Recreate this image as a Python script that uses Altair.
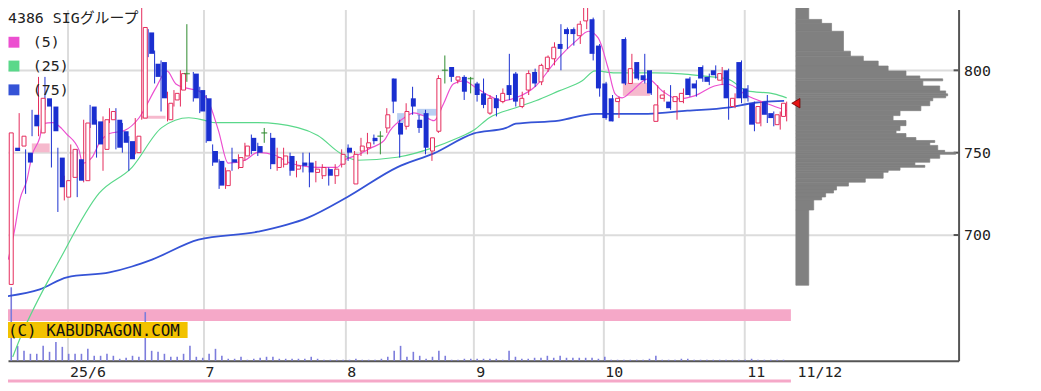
import altair as alt
import numpy as np
import pandas as pd

# ---------------- data ----------------
opens = [670,753,754,750,773,762,783,778,747,723,
         735,746,733,778,769,752,770,770,763,757,
         750,771,823,804,805,770,782,788,798,798,
         788,783,751,745,730,746,741,748,759,754,
         762,759,741,743,748,740,744,744,738,736,
         740,736,743,753,731,751,753,759,760,765,
         795,768,766,783,770,774,751,763,800,802,
         794,796,795,792,786,774,783,781,791,798,
         778,788,799,793,801,807,816,825,825,821,
         830,831,815,792,783,781,819,792,805,797,
         800,769,783,781,781,781,795,792,802,796,
         800,794,800,778,805,789,780,768,781,774,
         767,772]
highs = [771,754,774,752,776,796,796,780,753,736,
         755,752,770,779,770,772,777,777,768,760,
         771,840,825,812,806,787,788,800,828,799,
         790,785,755,746,741,753,749,756,761,756,
         765,762,753,753,750,745,750,750,745,743,
         741,743,752,755,751,759,762,761,763,777,
         795,770,780,790,773,776,759,797,809,802,
         796,797,796,793,795,785,785,789,810,799,
         787,800,801,804,809,817,828,826,826,830,
         841,832,816,793,785,784,820,810,805,810,
         800,791,788,791,784,789,796,794,803,798,
         803,802,801,786,806,791,781,781,785,775,
         775,781]
lows = [668,727,752,725,760,760,776,741,714,721,
        733,723,732,765,747,739,768,752,750,739,
        749,770,808,792,775,769,778,778,793,781,
        774,756,742,728,728,739,740,745,749,748,
        756,740,739,741,736,735,738,729,732,734,
        730,731,741,745,731,748,749,755,749,762,
        774,747,764,773,762,749,745,762,792,793,
        792,782,786,781,777,773,772,780,782,778,
        777,785,790,791,799,803,800,813,815,816,
        825,806,784,770,769,771,791,792,794,792,
        785,769,781,776,770,780,784,784,793,791,
        795,791,770,777,780,781,763,766,768,766,
        764,769]
closes = [762,751,760,744,766,783,778,763,729,733,
          752,733,768,767,755,770,775,753,756,746,
          760,826,810,796,783,780,786,798,798,783,
          775,757,744,730,739,744,747,754,751,750,
          762,743,747,748,739,742,742,738,740,741,
          736,740,749,750,749,754,756,757,760,773,
          781,761,775,778,765,753,759,795,800,796,
          796,787,795,785,779,783,777,786,785,781,
          783,798,792,803,808,814,813,822,822,828,
          840,810,789,771,769,783,792,801,795,794,
          786,779,785,777,784,786,785,789,795,793,
          797,798,783,783,783,783,767,778,773,771,
          773,780]
volume = [740,150,100,70,70,150,90,190,140,70,
          70,70,120,50,50,70,50,20,30,50,
          40,490,100,90,70,40,40,70,150,40,
          30,70,120,50,20,20,40,10,20,30,
          40,40,20,20,20,20,20,40,20,10,
          10,10,10,10,20,10,10,10,20,40,
          100,150,40,90,50,20,40,100,50,10,
          10,20,20,20,20,20,20,10,100,40,
          20,20,30,30,50,30,50,30,30,30,
          30,30,20,40,10,10,10,10,10,10,
          20,50,10,10,10,20,20,10,10,10,
          10,10,10,10,10,10,20,10,10,10,
          10,10]

ma5_idx = [0.3,1.3,2.1,3.2,4.0,5.2,5.7,7.2,8.6,9.3,11.3,11.8,13.3,14.4,16.0,18.3,20.6,23.2,
           24.9,26.3,27.8,29.8,31.3,32.9,34.4,37.0,39.0,41.7,44.1,48.3,51.3,52.4,54.4,56.4,
           58.6,59.5,61.7,63.2,64.7,66.3,67.8,69.3,70.9,72.9,74.9,77.0,79.0,82.1,85.2,88.3,
           90.3,91.8,93.3,94.4,95.5,97.0,99.5,101.7,104.1,106.7,109.8,111.8,114.9,118.0,121.0]
ma5_val = [685.0,703.2,721.3,733.3,748.4,759.2,767.6,768.2,764.6,761.6,751.4,743.6,747.2,755.6,
           761.6,763.4,771.2,789.3,799.6,791.7,789.3,787.5,781.5,763.4,743.6,745.4,750.2,748.4,
           743.6,741.1,741.1,745.4,748.4,752.6,757.4,763.4,771.2,774.2,772.4,769.4,779.7,791.7,
           793.6,789.3,784.5,781.5,783.3,790.5,805.6,817.7,823.7,819.5,801.4,785.7,783.3,787.5,
           794.8,787.5,782.7,784.5,790.5,791.7,784.5,779.7,775.5]
ma25_idx = [1.0,2.1,8.3,14.4,19.5,24.1,28.3,30.9,32.4,39.0,45.2,48.3,51.8,54.4,60.6,66.3,69.8,
            72.4,74.9,79.0,82.1,85.7,89.3,91.3,94.4,100.6,104.7,107.8,111.8,114.9,119.0,121.0]
ma25_val = [626.0,636.9,685.1,725.4,741.1,765.2,771.2,769.5,768.2,768.2,765.2,760.4,749.6,745.4,
            747.2,753.2,758.6,763.4,771.2,777.3,781.5,787.5,793.6,799.6,798.4,798.4,797.8,796.6,
            794.8,787.5,785.7,783.3]
ma75_idx = [0.1,5.2,9.4,16.0,19.5,22.6,29.8,39.0,46.7,52.9,60.6,66.3,72.4,77.5,79.0,85.7,91.3,
            99.5,105.6,111.8,116.0,120.6]
ma75_val = [662.8,667.0,674.3,677.3,680.9,685.1,697.2,702.0,710.4,723.1,741.1,749.6,761.6,765.0,
            767.6,769.5,773.6,773.6,775.5,777.3,780.3,781.5]

profile_edges = [842,830.9,828.5,823.7,811.6,808.6,805.6,802.6,799.6,796.6,794.8,793.6,790.5,787.5,
                 785.7,784.5,783.3,781.5,778.5,775.5,772.5,769.5,766.4,763.4,761.6,759.2,757.4,
                 756.2,754.4,751.4,750.2,749.0,746.6,744.2,742.3,741.1,739.3,738.1,734.5,732.1,
                 729.7,727.3,725.5,723.1,721.3,715.2,669.5]
profile_vol = [13,26,36,48,55,68,83,93,111,125,148,128,145,151,153,151,138,135,126,105,98,111,
               105,101,111,121,140,135,143,150,161,145,135,120,130,105,93,88,70,53,41,38,30,26,
               18,13]

gap_start = [3.96, 21.0, 60.6, 63.7, 95.6]
gap_end = [6.73, 24.7, 61.7, 66.7, 99.8]
gap_low = [750.2, 770.6, 768.0, 772.5, 784.5]
gap_high = [755.6, 772.4, 774.0, 776.6, 792.4]
gap_kind = ["up", "up", "down", "down", "up"]

month_start = [10, 31, 53, 73, 93, 115]
month_labels = ["25/6", "7", "8", "9", "10", "11"]
last_label = "11/12"
price_ticks = [700, 750, 800]
title_text = "4386 SIGグループ"
ma_labels = ["(5)", "(25)", "(75)"]
credit_text = "(C) KABUDRAGON.COM"

# ---------------- layout / style ----------------
W, H = 958, 354
STEP = 6.5
X0 = -1.75
x_dom = [(0 - X0) / STEP, (W - X0) / STEP]
PXY = 1.66
Y800 = 61.3
y_dom = [800 - (H - Y800) / PXY, 800 + Y800 / PXY]
vol_dom = [0, H * 10]
PROF_LEFT = 794
prof_dom = [-PROF_LEFT, W - PROF_LEFT]

RED = "#e52b5c"
BLUE = "#1a2fd0"
DOJI = "#2d8a2d"
MA_COLORS = ["#ec4fd0", "#5ad88a", "#3553d6"]
VOL_COLOR = "#7c7cdc"
PROF_COLOR = "#808080"
GRID = "#dcdcdc"
AXIS_C = "#555555"
TXT = "#222222"
MONO = "DejaVu Sans Mono"

n = len(closes)
o = np.array(opens); c = np.array(closes)
df = pd.DataFrame({"i": np.arange(n), "open": opens, "high": highs, "low": lows,
                   "close": closes, "vol": volume})
df["dir"] = np.where(c > o, "up", np.where(c < o, "down", "doji"))

xs = alt.Scale(domain=x_dom, nice=False, zero=False)
ys = alt.Scale(domain=y_dom, nice=False, zero=False)
vs = alt.Scale(domain=vol_dom, nice=False, zero=True)
ps = alt.Scale(domain=prof_dom, nice=False, zero=False)

tick_vals = [m - 0.5 for m in month_start] + [n + 0.3]
tick_labs = month_labels + [last_label]
label_expr = " : ".join(f"datum.value == {v} ? '{l}'" for v, l in zip(tick_vals, tick_labs)) + " : ''"

x_axis = alt.Axis(values=tick_vals, labelExpr=label_expr, orient="bottom", grid=True,
                  gridColor=GRID, gridWidth=2,
                  gridOpacity={"condition": {"test": f"datum.value > {n - 1}", "value": 0}, "value": 1},
                  ticks=False, domain=True, domainColor=AXIS_C, domainWidth=2,
                  labelAlign="left", labelOffset=2, labelPadding=4, labelBaseline="top",
                  labelFont=MONO, labelFontSize=15, labelColor=TXT, labelOverlap=False,
                  labelFlush=False, title=None)
y_axis = alt.Axis(orient="right", values=price_ticks, grid=True, gridColor=GRID, gridWidth=2,
                  ticks=False, domain=True, domainColor=AXIS_C, domainWidth=2, labelPadding=5,
                  labelFont=MONO, labelFontSize=15, labelColor=TXT, title=None, labelFlush=False)

one = pd.DataFrame({"k": [0]})

# decorations: pink band, bottom pink line
band = alt.Chart(one).mark_rect(color="#f5a8c8").encode(
    x=alt.value(0), x2=alt.value(789), y=alt.value(302), y2=alt.value(314))
bottom_line = alt.Chart(one).mark_rect(color="#f5a8c8").encode(
    x=alt.value(0), x2=alt.value(789), y=alt.value(373), y2=alt.value(376))

# gap boxes
gdf = pd.DataFrame({"s": gap_start, "e": gap_end, "lo": gap_low, "hi": gap_high, "kind": gap_kind})
gaps = alt.Chart(gdf).mark_rect().encode(
    x=alt.X("s:Q", scale=xs, axis=None), x2="e:Q",
    y=alt.Y("lo:Q", scale=ys, axis=None), y2="hi:Q",
    color=alt.Color("kind:N", scale=alt.Scale(domain=["up", "down"], range=["#f6b9cd", "#b9cff2"]), legend=None))

# volume
vol = alt.Chart(df).mark_bar(size=1.6, color=VOL_COLOR).encode(
    x=alt.X("i:Q", scale=xs, axis=None),
    y=alt.Y("vol:Q", scale=vs, axis=None))

# moving averages
def ma_layer(idx, val, color, width):
    d = pd.DataFrame({"i": idx, "p": val})
    return alt.Chart(d).mark_line(color=color, strokeWidth=width, interpolate="monotone").encode(
        x=alt.X("i:Q", scale=xs, axis=None), y=alt.Y("p:Q", scale=ys, axis=None))

ma75 = ma_layer(ma75_idx, ma75_val, MA_COLORS[2], 1.8)
ma25 = ma_layer(ma25_idx, ma25_val, MA_COLORS[1], 1.2)
ma5 = ma_layer(ma5_idx, ma5_val, MA_COLORS[0], 1.2)

# candles
wicks = alt.Chart(df).mark_rule(strokeWidth=1).encode(
    x=alt.X("i:Q", scale=xs, axis=x_axis),
    y=alt.Y("low:Q", scale=ys, axis=y_axis), y2="high:Q",
    color=alt.Color("dir:N", scale=alt.Scale(domain=["up", "down", "doji"], range=[RED, BLUE, DOJI]), legend=None))
up_b = alt.Chart(df).transform_filter("datum.dir == 'up'").mark_bar(
    size=4, fill="white", stroke=RED, strokeWidth=1).encode(
    x=alt.X("i:Q", scale=xs, axis=None), y=alt.Y("open:Q", scale=ys, axis=None), y2="close:Q")
dn_b = alt.Chart(df).transform_filter("datum.dir == 'down'").mark_bar(size=5, color=BLUE).encode(
    x=alt.X("i:Q", scale=xs, axis=None), y=alt.Y("open:Q", scale=ys, axis=None), y2="close:Q")
doji = alt.Chart(df).transform_filter("datum.dir == 'doji'").mark_tick(
    orient="horizontal", size=6, thickness=1.5, color=DOJI).encode(
    x=alt.X("i:Q", scale=xs, axis=None), y=alt.Y("close:Q", scale=ys, axis=None))

# inward y ticks
tdf = pd.DataFrame({"p": price_ticks})
yticks = alt.Chart(tdf).mark_rule(color=AXIS_C, strokeWidth=2).encode(
    x=alt.value(W - 5), x2=alt.value(W), y=alt.Y("p:Q", scale=ys, axis=None))

# volume profile
pdf = pd.DataFrame({"hi": profile_edges[:-1], "lo": profile_edges[1:], "v": profile_vol})
prof = alt.Chart(pdf).transform_calculate(zero="0").mark_rect(
    color=PROF_COLOR, stroke=PROF_COLOR, strokeWidth=0.7).encode(
    x=alt.X("zero:Q", scale=ps, axis=None), x2="v:Q",
    y=alt.Y("lo:Q", scale=ys, axis=None), y2="hi:Q")
tri = alt.Chart(pd.DataFrame({"v": [0], "p": [closes[-1]]})).mark_point(
    shape="triangle-left", filled=True, size=90, fill="#e41515", stroke="#700000",
    strokeWidth=0.8, opacity=1).encode(
    x=alt.X("v:Q", scale=ps, axis=None), y=alt.Y("p:Q", scale=ys, axis=None))

# credit label
gold = alt.Chart(one).mark_rect(color="#f2c200").encode(
    x=alt.value(0), x2=alt.value(181), y=alt.value(315), y2=alt.value(331))
credit = alt.Chart(one).mark_text(text=credit_text, align="left", baseline="middle",
                                  font=MONO, fontSize=16, color="#111").encode(
    x=alt.value(0), y=alt.value(324))

# title + legend
title = alt.Chart(one).mark_text(text=title_text, align="left", baseline="middle",
                                 font=f"{MONO}, Noto Sans CJK JP", fontSize=15, color=TXT).encode(
    x=alt.value(0), y=alt.value(9))
legend_layers = []
for k, (lab, col) in enumerate(zip(ma_labels, MA_COLORS)):
    yy = 33 + k * 24
    legend_layers.append(alt.Chart(one).mark_point(shape="square", filled=True, size=121,
                                                   color=col, opacity=1).encode(
        x=alt.value(6), y=alt.value(yy)))
    legend_layers.append(alt.Chart(one).mark_text(text=lab, align="left", baseline="middle",
                                                  font=MONO, fontSize=15, color=TXT).encode(
        x=alt.value(25), y=alt.value(yy)))

chart = alt.layer(
    band, bottom_line, gaps, vol, ma75, ma25, ma5, wicks, up_b, dn_b, doji, yticks,
    prof, tri, gold, credit, title, *legend_layers
).resolve_scale(
    x="independent", y="independent", color="independent"
).properties(
    width=W, height=H,
    padding={"left": 0, "top": 0, "right": 75, "bottom": 29},
    autosize=alt.AutoSizeParams(type="none"),
    background="white",
).configure_view(stroke=None)

chart.save("out.html", embed_options={"renderer": "svg", "actions": False})
